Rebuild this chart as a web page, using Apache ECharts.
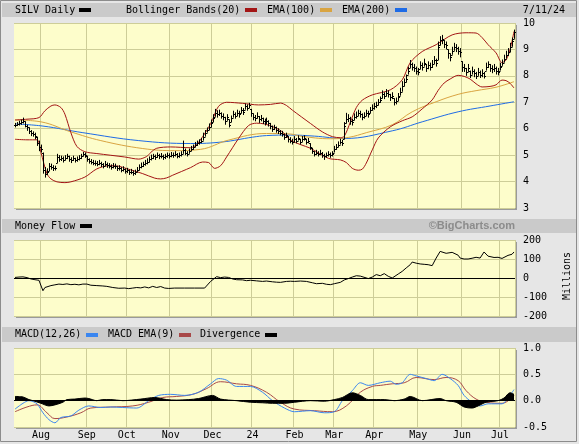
<!DOCTYPE html>
<html lang="en">
  <head>
    <meta charset="UTF-8" />
    <title>SILV Daily</title>
    <script src="https://cdn.jsdelivr.net/npm/echarts@6/dist/echarts.min.js"></script>
    <style>
      html, body { margin: 0; padding: 0; background: #e6e6e6; }
      #chart { width: 579px; height: 444px; }
    </style>
  </head>
  <body>
    <div id="chart"></div>
    <script>
      // trading days per month in view (Jul 13 2023 .. Jul 11 2024)
      var monthDays = [13, 23, 20, 22, 21, 20, 21, 20, 20, 22, 22, 19, 8];
      var monthNames = ['Jul', 'Aug', 'Sep', 'Oct', 'Nov', 'Dec', '24', 'Feb', 'Mar', 'Apr', 'May', 'Jun', 'Jul'];

      var priceTicks = [3, 4, 5, 6, 7, 8, 9, 10];
      var flowTicks = [-200, -100, 0, 100, 200];
      var macdTicks = [-0.5, 0, 0.5, 1.0];

      // daily bars
      var close = [6.15,6.18,6.22,6.25,6.3,6.12,6.05,5.9,5.85,5.8,
        5.72,5.45,5.3,5.25,4.45,4.3,4.38,4.6,4.55,4.5,
        4.52,4.92,4.85,4.88,4.82,4.9,4.95,4.85,4.8,4.88,
        4.8,4.85,4.9,4.95,5.05,5.0,4.85,4.78,4.75,4.72,
        4.7,4.68,4.72,4.65,4.6,4.68,4.62,4.6,4.55,4.6,
        4.58,4.5,4.52,4.45,4.48,4.4,4.42,4.35,4.38,4.32,
        4.35,4.45,4.55,4.6,4.65,4.7,4.75,4.85,4.9,4.95,
        4.92,5.0,4.95,4.98,4.92,4.95,5.0,4.97,5.02,5.0,
        5.05,4.98,5.0,5.05,5.2,5.1,5.05,5.15,5.25,5.3,
        5.4,5.45,5.5,5.55,5.7,5.85,5.95,6.05,6.2,6.4,
        6.6,6.55,6.6,6.5,6.45,6.3,6.45,6.15,6.4,6.55,
        6.5,6.6,6.55,6.7,6.65,6.85,6.8,6.9,6.6,6.45,
        6.4,6.5,6.35,6.4,6.3,6.25,6.3,6.2,6.1,6.0,
        6.05,5.95,5.9,5.85,5.8,5.7,5.75,5.6,5.55,5.5,
        5.6,5.55,5.65,5.5,5.6,5.65,5.5,5.55,5.3,5.15,
        5.05,5.1,5.05,5.1,5.0,4.95,5.0,5.05,5.0,5.05,
        5.25,5.3,5.4,5.5,5.45,6.1,6.35,6.4,6.3,6.25,
        6.45,6.5,6.6,6.55,6.45,6.5,6.6,6.55,6.7,6.8,
        6.85,6.9,7.0,7.1,7.3,7.25,7.35,7.3,7.2,7.25,
        7.0,7.05,7.2,7.4,7.6,7.75,7.9,8.2,8.45,8.35,
        8.3,8.2,8.15,8.4,8.35,8.5,8.3,8.4,8.35,8.45,
        8.6,8.5,9.1,9.35,9.4,9.2,9.15,8.85,8.7,8.95,
        9.1,9.05,8.95,8.9,8.35,8.3,8.15,8.3,8.05,8.2,
        8.1,8.0,8.15,8.05,8.1,8.0,8.35,8.45,8.3,8.25,
        8.3,8.2,8.15,8.35,8.5,8.65,8.8,8.9,9.1,9.3,
        9.65];
      var high = [6.22,6.25,6.3,6.35,6.42,6.28,6.15,6.05,5.95,5.9,
        5.85,5.7,5.55,5.4,5.1,4.55,4.5,4.7,4.68,4.62,
        4.6,5.05,5.0,4.98,4.95,5.0,5.05,4.98,4.92,4.98,
        4.9,4.95,5.0,5.05,5.12,5.1,4.98,4.88,4.85,4.82,
        4.8,4.78,4.82,4.75,4.7,4.78,4.72,4.7,4.65,4.7,
        4.68,4.6,4.62,4.55,4.58,4.5,4.52,4.45,4.48,4.42,
        4.45,4.55,4.65,4.72,4.75,4.82,4.88,4.95,5.02,5.05,
        5.02,5.1,5.05,5.08,5.02,5.05,5.1,5.07,5.12,5.1,
        5.15,5.08,5.1,5.15,5.55,5.25,5.15,5.25,5.35,5.4,
        5.5,5.55,5.6,5.65,5.85,5.95,6.05,6.2,6.35,6.55,
        6.75,6.7,6.72,6.62,6.58,6.45,6.55,6.35,6.5,6.68,
        6.62,6.72,6.68,6.82,6.78,6.95,6.92,6.98,6.75,6.58,
        6.52,6.62,6.48,6.52,6.42,6.38,6.42,6.32,6.22,6.12,
        6.15,6.08,6.02,5.95,5.92,5.82,5.85,5.72,5.68,5.62,
        5.72,5.65,5.75,5.62,5.72,5.75,5.62,5.65,5.45,5.28,
        5.15,5.2,5.15,5.2,5.12,5.05,5.1,5.15,5.1,5.15,
        5.35,5.42,5.52,5.62,5.58,6.25,6.6,6.55,6.45,6.38,
        6.58,6.65,6.72,6.68,6.58,6.62,6.72,6.68,6.82,6.92,
        6.98,7.02,7.12,7.22,7.45,7.38,7.5,7.45,7.32,7.38,
        7.15,7.18,7.35,7.55,7.8,7.9,8.05,8.35,8.6,8.5,
        8.45,8.35,8.3,8.55,8.5,8.65,8.45,8.55,8.5,8.6,
        8.75,8.65,9.3,9.5,9.55,9.35,9.3,9.0,8.85,9.1,
        9.25,9.2,9.1,9.05,8.55,8.45,8.3,8.45,8.2,8.35,
        8.25,8.15,8.3,8.2,8.25,8.15,8.5,8.55,8.45,8.4,
        8.45,8.35,8.3,8.5,8.62,8.8,8.95,9.05,9.25,9.45,
        9.75];
      var low = [6.05,6.1,6.12,6.15,6.2,6.05,5.92,5.8,5.72,5.7,
        5.6,5.35,5.15,5.1,4.3,4.15,4.25,4.4,4.45,4.4,
        4.42,4.7,4.75,4.78,4.72,4.8,4.85,4.75,4.7,4.78,
        4.72,4.75,4.8,4.85,4.95,4.9,4.75,4.68,4.65,4.62,
        4.6,4.58,4.62,4.55,4.5,4.58,4.52,4.5,4.45,4.5,
        4.48,4.4,4.42,4.35,4.38,4.3,4.32,4.25,4.28,4.22,
        4.25,4.35,4.42,4.5,4.55,4.6,4.65,4.72,4.8,4.85,
        4.82,4.9,4.85,4.88,4.82,4.85,4.9,4.87,4.92,4.9,
        4.95,4.88,4.9,4.95,5.05,5.0,4.95,5.05,5.15,5.2,
        5.3,5.35,5.4,5.45,5.55,5.7,5.85,5.95,6.05,6.25,
        6.45,6.42,6.48,6.38,6.32,6.15,6.3,6.05,6.25,6.42,
        6.38,6.48,6.42,6.58,6.52,6.72,6.68,6.78,6.45,6.32,
        6.28,6.38,6.22,6.28,6.18,6.12,6.18,6.08,5.98,5.88,
        5.95,5.85,5.8,5.75,5.7,5.58,5.65,5.48,5.45,5.4,
        5.48,5.45,5.55,5.4,5.5,5.55,5.4,5.45,5.2,5.05,
        4.95,5.0,4.95,5.0,4.9,4.82,4.9,4.95,4.9,4.95,
        5.1,5.2,5.3,5.4,5.35,5.6,6.2,6.25,6.15,6.12,
        6.32,6.38,6.48,6.42,6.32,6.38,6.48,6.42,6.58,6.68,
        6.72,6.78,6.88,6.98,7.15,7.12,7.22,7.18,7.05,7.12,
        6.88,6.92,7.05,7.25,7.4,7.6,7.75,8.05,8.3,8.2,
        8.15,8.05,8.02,8.25,8.2,8.35,8.15,8.25,8.2,8.3,
        8.45,8.35,8.6,9.15,9.2,9.05,9.0,8.65,8.55,8.8,
        8.95,8.9,8.8,8.7,8.15,8.15,8.0,8.15,7.92,8.05,
        7.95,7.88,8.0,7.92,7.95,7.9,8.2,8.3,8.15,8.1,
        8.15,8.05,8.02,8.2,8.38,8.5,8.65,8.75,8.9,9.1,
        9.4];

      // overlays, as [day index, value]
      var bbUpper = [[0,6.33],[6,6.36],[12,6.42],[15,6.68],[18,6.86],[20,6.9],[23,6.8],[25,6.55],[28,5.85],
        [31,5.33],[35,5.13],[41,5.06],[55,4.93],[62,4.85],[66,4.95],[68,5.1],[71,5.26],[78,5.31],[88,5.28],
        [91,5.4],[94,5.7],[97,6.05],[99,6.35],[102,6.85],[106,7.0],[114,6.96],[122,6.9],[128,6.92],
        [133,6.97],[136,6.88],[139,6.7],[148,6.2],[154,5.88],[159,5.7],[163,5.66],[165,5.72],[168,6.25],
        [171,6.8],[174,7.08],[179,7.28],[188,7.47],[194,7.85],[198,8.5],[204,8.92],[211,9.18],[219,9.55],
        [226,9.63],[231,9.62],[234,9.45],[237,9.18],[241,8.87],[244,8.5],[246,8.6],[248,8.99],[250,9.68]];
      var bbLower = [[0,5.6],[6,5.58],[11,5.58],[13,5.1],[16,4.3],[18,4.1],[21,3.99],[25,3.96],[28,3.99],
        [35,4.17],[41,4.48],[47,4.6],[52,4.58],[56,4.49],[64,4.3],[70,4.13],[73,4.1],[76,4.14],[79,4.24],
        [88,4.53],[94,4.74],[97,4.72],[100,4.5],[103,4.6],[106,4.93],[112,5.63],[117,6.12],[121,6.21],
        [125,6.18],[130,6.05],[134,5.88],[138,5.57],[143,5.4],[148,5.26],[157,4.88],[163,4.82],[166,4.72],
        [169,4.5],[172,4.43],[174,4.47],[176,4.7],[179,5.2],[182,5.65],[188,6.07],[194,6.3],[199,6.45],
        [204,6.75],[209,7.09],[212,7.45],[215,7.73],[218,7.88],[222,8.02],[225,7.98],[228,7.88],[231,7.7],
        [234,7.58],[238,7.6],[241,7.66],[244,7.84],[246,7.82],[248,7.72],[250,7.54]];
      var ema100 = [[0,6.33],[13,6.26],[28,5.88],[43,5.55],[64,5.25],[80,5.17],[93,5.22],[107,5.57],
        [126,5.82],[138,5.8],[143,5.72],[158,5.62],[167,5.67],[176,5.85],[189,6.15],[199,6.64],[211,7.02],
        [222,7.3],[231,7.44],[241,7.57],[250,7.78]];
      var ema200 = [[0,6.18],[14,6.1],[34,5.85],[62,5.55],[88,5.44],[104,5.5],[119,5.68],[126,5.74],
        [138,5.76],[150,5.72],[165,5.63],[189,5.92],[204,6.26],[222,6.64],[238,6.86],[250,7.02]];

      var moneyFlow = [[0,3],[2,5],[4,6],[6,2],[8,-5],[10,-9],[12,-12],[13,-4],[14,-67],[15,-50],[16,-44],
        [18,-40],[20,-36],[22,-32],[24,-34],[26,-31],[28,-35],[30,-33],[32,-36],[34,-32],[36,-32],[38,-38],
        [41,-40],[44,-42],[46,-44],[49,-50],[52,-54],[55,-53],[57,-56],[59,-53],[61,-50],[63,-52],[65,-47],
        [67,-52],[69,-44],[71,-50],[73,-45],[75,-53],[77,-55],[80,-53],[85,-53],[90,-53],[95,-53],[98,-18],
        [101,7],[103,2],[105,5],[107,3],[109,-5],[111,-9],[114,-10],[116,-14],[118,-12],[121,-15],[124,-18],
        [126,-16],[129,-20],[131,-22],[133,-23],[136,-18],[138,-17],[140,-18],[143,-16],[146,-18],[149,-25],
        [151,-30],[154,-28],[156,-33],[158,-35],[160,-30],[163,-23],[165,-10],[167,-3],[169,5],[171,12],
        [173,10],[174,9],[177,-3],[179,5],[181,18],[183,12],[185,23],[187,9],[189,0],[190,2],[192,21],
        [194,35],[196,53],[198,70],[199,84],[201,78],[203,74],[205,72],[207,70],[209,65],[210,61],[211,105],
        [213,140],[214,149],[216,130],[217,123],[219,135],[220,144],[222,120],[223,105],[225,100],[227,100],
        [229,104],[231,109],[233,105],[235,137],[237,115],[238,109],[240,108],[242,109],[244,103],[245,105],
        [247,119],[249,125],[250,137]];

      var macd = [[0,-0.16],[4,-0.05],[7,0],[11,-0.06],[14,-0.23],[17,-0.36],[20,-0.42],[23,-0.32],[28,-0.29],
        [32,-0.18],[37,-0.1],[43,-0.13],[48,-0.12],[54,-0.13],[61,-0.14],[67,0],[72,0.1],[78,0.12],[85,0.1],
        [92,0.16],[98,0.32],[102,0.42],[106,0.39],[111,0.27],[118,0.27],[124,0.16],[129,0],[135,-0.14],
        [140,-0.21],[148,-0.19],[155,-0.23],[160,-0.21],[164,0],[169,0.19],[173,0.34],[177,0.29],[183,0.34],
        [188,0.37],[191,0.31],[194,0.34],[198,0.5],[201,0.47],[206,0.42],[210,0.38],[214,0.5],[218,0.42],
        [222,0.29],[225,0.1],[229,-0.03],[233,-0.1],[237,-0.06],[244,-0.06],[247,0.05],[250,0.21]];
      var macdSignal = [[0,-0.21],[6,-0.12],[11,-0.08],[16,-0.23],[20,-0.34],[26,-0.31],[33,-0.23],[38,-0.14],
        [48,-0.12],[59,-0.1],[67,-0.03],[74,0.06],[81,0.08],[89,0.12],[96,0.23],[103,0.36],[111,0.32],
        [118,0.29],[126,0.16],[133,-0.03],[140,-0.16],[150,-0.19],[159,-0.21],[166,-0.1],[173,0.16],
        [179,0.27],[183,0.29],[189,0.32],[195,0.34],[201,0.44],[210,0.4],[216,0.44],[222,0.38],[226,0.19],
        [231,0.03],[236,-0.03],[244,-0.05],[250,0.1]];
      var divergence = [[0,0.08],[4,0.07],[7,0.02],[9,0],[13,-0.05],[17,-0.1],[20,-0.08],[24,-0.03],[26,0.02],
        [30,0.03],[35,0.05],[37,0.04],[41,0],[44,0.02],[48,0.02],[54,0],[63,0.03],[70,0.06],[76,0.02],
        [81,0.01],[87,0.02],[92,0.04],[99,0.1],[103,0.03],[111,0],[118,-0.03],[124,-0.04],[129,-0.05],
        [135,-0.05],[140,-0.03],[148,0],[155,-0.01],[160,0.02],[164,0.06],[169,0.15],[173,0.1],[177,0.02],
        [185,0.02],[190,0],[195,0.03],[198,0.08],[204,0],[213,0.04],[216,0],[221,-0.03],[225,-0.12],
        [229,-0.14],[232,-0.1],[236,-0.03],[242,0],[245,0.05],[248,0.15],[250,0.12]];

      // build categories and month-start positions
      var days = [];
      var labelAt = {};
      monthDays.forEach(function (n, m) {
        if (m > 0) labelAt[days.length] = monthNames[m];
        for (var d = 0; d < n; d++) days.push(monthNames[m] + '/' + m + '/' + (d + 1));
      });
      var isMonthStart = function (i) { return labelAt[i] !== undefined; };

      var mono = '"DejaVu Sans Mono", monospace';
      var plotBg = '#fdfdcb';
      var gridColor = '#cdcd98';
      var hdrColor = '#cacaca';

      function xAxisFor(gi, showLabels) {
        return {
          type: 'category', gridIndex: gi, data: days, boundaryGap: true,
          axisLine: { show: false }, axisTick: { show: false },
          axisLabel: {
            show: showLabels, interval: isMonthStart, margin: 3,
            fontFamily: mono, fontSize: 10, color: '#000',
            formatter: function (v, i) { return labelAt[i] || ''; }
          },
          splitLine: { show: true, interval: isMonthStart, lineStyle: { color: gridColor, width: 1 } }
        };
      }
      function yAxisFor(gi, ticks, fmt) {
        return {
          type: 'value', gridIndex: gi, position: 'right',
          min: ticks[0], max: ticks[ticks.length - 1], interval: ticks[1] - ticks[0],
          axisLine: { show: false }, axisTick: { show: false },
          axisLabel: { margin: 8, fontFamily: mono, fontSize: 10, color: '#000', formatter: fmt },
          splitLine: { lineStyle: { color: gridColor, width: 1 } }
        };
      }
      function gridAt(top, height) {
        return {
          left: 14, top: top, width: 501, height: height, show: true,
          backgroundColor: plotBg, borderWidth: 0,
          shadowColor: '#9a9a9a', shadowOffsetX: 2, shadowOffsetY: 2, shadowBlur: 0
        };
      }
      function overlay(name, data, color, xi, smooth) {
        return {
          name: name, type: 'line', xAxisIndex: xi, yAxisIndex: xi, data: data,
          symbol: 'none', smooth: smooth, lineStyle: { color: color, width: 1 }, z: 2
        };
      }
      var zeroLine = {
        symbol: 'none', silent: true, label: { show: false },
        lineStyle: { color: '#000', type: 'solid', width: 1 }, data: [{ yAxis: 0 }]
      };

      // bar: high-low stem, left tick at prior close, right tick at close
      function renderBar(params, api) {
        var i = api.value(0);
        var lo = api.coord([i, api.value(1)]);
        var hi = api.coord([i, api.value(2)]);
        var cl = api.coord([i, api.value(3)]);
        var op = api.coord([i, api.value(4)]);
        var x = Math.round(lo[0]) + 0.5;
        var cy = Math.round(cl[1]) + 0.5;
        var oy = Math.round(Math.min(Math.max(op[1], hi[1]), lo[1])) + 0.5;
        var st = { stroke: '#000', lineWidth: 1 };
        return {
          type: 'group',
          children: [
            { type: 'line', shape: { x1: x, y1: lo[1], x2: x, y2: hi[1] }, style: st },
            { type: 'line', shape: { x1: x - 1.5, y1: oy, x2: x, y2: oy }, style: st },
            { type: 'line', shape: { x1: x, y1: cy, x2: x + 1.5, y2: cy }, style: st }
          ]
        };
      }

      function headerText(x, y, text) {
        return { type: 'text', x: x, y: y, style: { text: text, font: '10px ' + mono, fill: '#000', verticalAlign: 'middle' } };
      }
      function swatch(x, y, color) {
        return { type: 'rect', shape: { x: x, y: y, width: 12, height: 4 }, style: { fill: color } };
      }

      var chart = echarts.init(document.getElementById('chart'));
      chart.setOption({
        animation: false,
        backgroundColor: '#e6e6e6',
        grid: [gridAt(23, 185), gridAt(240, 76), gridAt(348, 79)],
        xAxis: [xAxisFor(0, false), xAxisFor(1, false), xAxisFor(2, true)],
        yAxis: [
          yAxisFor(0, priceTicks),
          yAxisFor(1, flowTicks),
          yAxisFor(2, macdTicks, function (v) { return v.toFixed(1); })
        ],
        graphic: [
          { type: 'rect', shape: { x: 0.5, y: 0.5, width: 576, height: 441 }, style: { fill: 'none', stroke: '#8c8c8c', lineWidth: 1 } },
          { type: 'rect', shape: { x: 2, y: 3, width: 574, height: 14 }, style: { fill: hdrColor } },
          { type: 'rect', shape: { x: 2, y: 219, width: 574, height: 14 }, style: { fill: hdrColor } },
          { type: 'rect', shape: { x: 2, y: 327, width: 574, height: 15 }, style: { fill: hdrColor } },
          headerText(15, 10, 'SILV Daily'), swatch(79, 8, '#000'),
          headerText(126, 10, 'Bollinger Bands(20)'), swatch(245, 8, '#a31515'),
          headerText(267, 10, 'EMA(100)'), swatch(320, 8, '#d9a441'),
          headerText(342, 10, 'EMA(200)'), swatch(395, 8, '#1e6be6'),
          { type: 'text', x: 565, y: 10, style: { text: '7/11/24', font: '10px ' + mono, fill: '#000', align: 'right', verticalAlign: 'middle' } },
          headerText(15, 226, 'Money Flow'), swatch(80, 224, '#000'),
          { type: 'text', x: 515, y: 226, style: { text: '\u00a9BigCharts.com', font: 'bold 11px "Liberation Sans", Arial, sans-serif', fill: '#8c8c8c', align: 'right', verticalAlign: 'middle' } },
          { type: 'text', x: 567, y: 276, rotation: Math.PI / 2, style: { text: 'Millions', font: '10px ' + mono, fill: '#000', align: 'center', verticalAlign: 'middle' } },
          headerText(15, 334.5, 'MACD(12,26)'), swatch(86, 333, '#3a86f0'),
          headerText(108, 334.5, 'MACD EMA(9)'), swatch(179, 333, '#a84848'),
          headerText(200, 334.5, 'Divergence'), swatch(265, 333, '#000')
        ],
        series: [
          overlay('EMA(200)', ema200, '#1e6be6', 0, 0.4),
          overlay('EMA(100)', ema100, '#d9a441', 0, 0.4),
          overlay('BB upper', bbUpper, '#a31515', 0, 0.3),
          overlay('BB lower', bbLower, '#a31515', 0, 0.3),
          {
            name: 'SILV', type: 'custom', xAxisIndex: 0, yAxisIndex: 0, z: 3,
            renderItem: renderBar, encode: { x: 0, y: [1, 2, 3] },
            data: close.map(function (c, i) { return [i, low[i], high[i], c, i > 0 ? close[i - 1] : c]; })
          },
          {
            name: 'Money Flow', type: 'line', xAxisIndex: 1, yAxisIndex: 1, data: moneyFlow,
            symbol: 'none', lineStyle: { color: '#000', width: 1 }, markLine: zeroLine
          },
          {
            name: 'Divergence', type: 'line', xAxisIndex: 2, yAxisIndex: 2, data: divergence,
            symbol: 'none', smooth: 0.3, lineStyle: { color: '#000', width: 1 },
            areaStyle: { color: '#000', opacity: 1 }, markLine: zeroLine
          },
          overlay('MACD EMA(9)', macdSignal, '#a84848', 2, 0.4),
          overlay('MACD(12,26)', macd, '#3a86f0', 2, 0.3)
        ]
      });
    </script>
  </body>
</html>
